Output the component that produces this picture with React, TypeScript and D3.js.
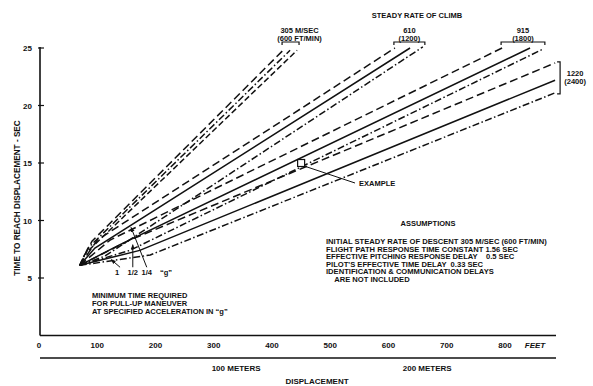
import React, { useEffect, useRef } from "react";
import * as d3 from "d3";

// Time to reach displacement vs displacement, per steady rate of climb

const W = 593;
const H = 386;

const yTicks = [5, 10, 15, 20, 25];
const xTicks = [0, 100, 200, 300, 400, 500, 600, 700, 800];
const meterTicks = [100, 200];
const climbLabels = ["305 M/SEC", "610", "915", "1220"];
const climbLabelsFt = ["(600 FT/MIN)", "(1200)", "(1800)", "(2400)"];
const gLabels = ["1", "1/2", "1/4", "\u201Cg\u201D"];
const gLabelFt = [134, 161, 185, 218];
const gTargets: [number, number][] = [[124, 6.6], [161, 7.9], [158, 9.4]];

// all curves leave from this point (ft, sec)
const origin: [number, number] = [70, 6.1];

// each climb rate: three curves (1/4 g, 1/2 g, 1 g), each [knee, end] in (ft, sec)
const climb305: [number, number][][] = [
  [[91, 8.2], [419, 24.8]],
  [[84, 7.6], [431, 24.8]],
  [[79, 7.1], [443, 24.8]],
];
const climb610: [number, number][][] = [
  [[100, 8.3], [611, 25.0]],
  [[96, 7.6], [637, 25.0]],
  [[113, 6.9], [659, 25.1]],
];
const climb915: [number, number][][] = [
  [[122, 8.3], [795, 25.0]],
  [[139, 7.9], [843, 25.0]],
  [[156, 7.4], [865, 24.9]],
];
const climb1220: [number, number][][] = [
  [[156, 8.3], [886, 23.7]],
  [[173, 7.4], [886, 22.2]],
  [[191, 7.0], [886, 21.1]],
];

const examplePt: [number, number] = [450, 15];

const assumptions = [
  "INITIAL STEADY RATE OF DESCENT 305 M/SEC (600 FT/MIN)",
  "FLIGHT PATH RESPONSE TIME CONSTANT 1.56 SEC",
  "EFFECTIVE PITCHING RESPONSE DELAY    0.5 SEC",
  "PILOT'S EFFECTIVE TIME DELAY  0.33 SEC",
  "IDENTIFICATION & COMMUNICATION DELAYS",
  "    ARE NOT INCLUDED",
];
const minTimeNote = [
  "MINIMUM TIME REQUIRED",
  "FOR PULL-UP MANEUVER",
  "AT SPECIFIED ACCELERATION IN \u201Cg\u201D",
];

function Chart() {
  const ref = useRef<SVGSVGElement>(null);

  useEffect(() => {
    const svg = d3.select(ref.current);
    svg.selectAll("*").remove();
    const font = "'Liberation Sans', Arial, sans-serif";
    const ink = "#111";

    const x = d3.scaleLinear().domain([0, 800]).range([39, 505]);
    const y = d3.scaleLinear().domain([0, 25]).range([335.5, 48]);

    const txt = (tx: number, ty: number, s: string, size: number, anchor = "start") =>
      svg.append("text")
        .attr("x", tx).attr("y", ty)
        .attr("font-family", font).attr("font-size", size)
        .attr("font-weight", "bold").attr("fill", ink)
        .attr("text-anchor", anchor)
        .text(s);

    // arrow marker
    svg.append("defs").append("marker")
      .attr("id", "arr").attr("viewBox", "0 0 10 10")
      .attr("refX", 9).attr("refY", 5)
      .attr("markerWidth", 5).attr("markerHeight", 5)
      .attr("orient", "auto")
      .append("path").attr("d", "M0,1 L10,5 L0,9 Z").attr("fill", ink);

    // axes
    svg.append("line").attr("x1", 40).attr("x2", 40).attr("y1", y(25) - 1).attr("y2", 335.5)
      .attr("stroke", ink).attr("stroke-width", 1.6);
    svg.append("line").attr("x1", 40).attr("x2", 556).attr("y1", 335.5).attr("y2", 335.5)
      .attr("stroke", ink).attr("stroke-width", 1.4);
    svg.append("line").attr("x1", 40).attr("x2", 556).attr("y1", 358).attr("y2", 358)
      .attr("stroke", ink).attr("stroke-width", 1.4);

    yTicks.forEach(v => {
      svg.append("line").attr("x1", 38).attr("x2", 44).attr("y1", y(v)).attr("y2", y(v))
        .attr("stroke", ink).attr("stroke-width", 1.2);
      txt(32, y(v) + 3, String(v), 8, "end");
    });
    xTicks.forEach(v => txt(x(v), 348, String(v), 8, "middle"));
    txt(x(800) + 30, 348, "FEET", 8, "middle").attr("font-style", "italic");
    meterTicks.forEach(m => txt(x(m * 3.2808) + 6, 371, m + " METERS", 8, "middle"));
    txt(317, 384, "DISPLACEMENT", 8, "middle");
    txt(0, 0, "TIME TO REACH DISPLACEMENT - SEC", 8.2, "middle")
      .attr("transform", `translate(20, 198) rotate(-90)`);

    // curves
    const line = d3.line<[number, number]>().x(d => x(d[0])).y(d => y(d[1]));
    const styles = ["8,4", null, "7,2.5,1.5,2.5"];
    const styles305 = ["8,4", "7,2.5,1.5,2.5", "6,3"];
    const groups = [climb305, climb610, climb915, climb1220];
    groups.forEach((grp, gi) => {
      grp.forEach((pts, k) => {
        const dash = gi === 0 ? styles305[k] : styles[k];
        svg.append("path")
          .attr("d", line([origin, ...pts]))
          .attr("fill", "none").attr("stroke", ink)
          .attr("stroke-width", 1.5)
          .attr("stroke-dasharray", dash);
      });
    });

    // brackets and climb labels
    groups.forEach((grp, gi) => {
      const ends = grp.map(p => p[1]);
      if (gi < 3) {
        const x0 = x(d3.min(ends, e => e[0])!) - 1;
        const x1 = x(d3.max(ends, e => e[0])!) + 2;
        const by = y(25) - 6;
        svg.append("path").attr("d", `M${x0},${by + 3}V${by}H${x1}V${by + 3}`)
          .attr("fill", "none").attr("stroke", ink).attr("stroke-width", 1.2);
        const cx = (x0 + x1) / 2 + (gi === 0 ? 9 : 0);
        txt(cx, by - 9, climbLabels[gi], 7.5, "middle");
        txt(cx, by - 1.5, climbLabelsFt[gi], 7.5, "middle");
      } else {
        const bx = x(d3.max(ends, e => e[0])!) + 5;
        const y0 = y(d3.max(ends, e => e[1])!) - 1;
        const y1 = y(d3.min(ends, e => e[1])!) + 1;
        svg.append("path").attr("d", `M${bx - 3},${y0}H${bx}V${y1}H${bx - 3}`)
          .attr("fill", "none").attr("stroke", ink).attr("stroke-width", 1.2);
        txt(bx + 15, (y0 + y1) / 2 - 2, climbLabels[gi], 7.5, "middle");
        txt(bx + 15, (y0 + y1) / 2 + 6, climbLabelsFt[gi], 7.5, "middle");
      }
    });
    txt(417, 18, "STEADY RATE OF CLIMB", 7.5, "middle");

    // g labels and leaders
    const gy = y(5.5);
    gLabels.forEach((s, i) => txt(x(gLabelFt[i]), gy + 3, s, 7.5, "middle"));
    gTargets.forEach((t, i) => {
      svg.append("line")
        .attr("x1", x(gLabelFt[i]) + (i === 0 ? 3 : 0)).attr("y1", gy - 5)
        .attr("x2", x(t[0])).attr("y2", y(t[1]))
        .attr("stroke", ink).attr("stroke-width", 1)
        .attr("marker-end", "url(#arr)");
    });

    // example
    svg.append("rect")
      .attr("x", x(examplePt[0]) - 3.5).attr("y", y(examplePt[1]) - 3.5)
      .attr("width", 7).attr("height", 7)
      .attr("fill", "white").attr("stroke", ink).attr("stroke-width", 1.2);
    svg.append("line")
      .attr("x1", x(examplePt[0]) + 3).attr("y1", y(examplePt[1]) + 3)
      .attr("x2", 355).attr("y2", 183)
      .attr("stroke", ink).attr("stroke-width", 1);
    txt(359, 186, "EXAMPLE", 7.5);

    // notes
    txt(428, 226, "ASSUMPTIONS", 7.5, "middle");
    assumptions.forEach((s, i) => txt(326, 244 + i * 7.6, s, 7.6).style("white-space", "pre"));
    minTimeNote.forEach((s, i) => txt(92, 298 + i * 8, s, 7.5));
  }, []);

  return <svg ref={ref} width={W} height={H} style={{ position: "absolute", left: 0, top: 0, background: "white" }} />;
}

export default function App() {
  return <Chart />;
}
